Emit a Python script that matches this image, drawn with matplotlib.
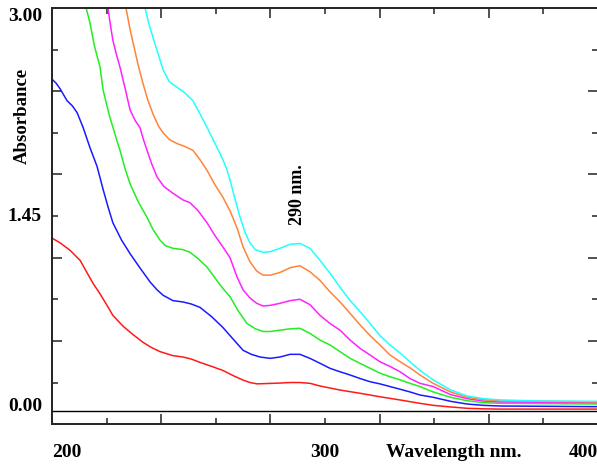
import numpy as np
import matplotlib
matplotlib.use('Agg')
import matplotlib.pyplot as plt
from matplotlib import transforms

# ################## spectra (nm, absorbance) ########

red_nm = [200, 203, 206.6, 210.3, 212.5, 215, 217.6, 220, 222.3, 226, 229.5, 233.3, 236.5,
          239.6, 244.3, 248, 251, 254.2, 258.5, 262.6, 266.5, 270, 272.5, 275.1, 279.5,
          283.5, 287.2, 290.8, 294.5, 298.2, 305.5, 312.8, 320.1, 323.8, 327.5, 334.8,
          339.6, 346, 352, 358, 364.1, 400]
red_abs = [1.286, 1.25, 1.195, 1.12, 1.04, 0.95, 0.87, 0.79, 0.71, 0.63, 0.57, 0.51, 0.47,
           0.44, 0.41, 0.40, 0.385, 0.36, 0.33, 0.30, 0.26, 0.228, 0.21, 0.20, 0.203,
           0.206, 0.21, 0.21, 0.204, 0.184, 0.154, 0.13, 0.104, 0.092, 0.08, 0.055,
           0.04, 0.028, 0.018, 0.014, 0.012, 0.012]

blue_nm = [200, 201.5, 202.9, 205.5, 207.5, 209.2, 211.4, 213.9, 216.5, 218.7, 220.5, 222.3,
           225.5, 228.6, 232, 235.9, 238.5, 240.7, 244.3, 248, 251, 254.2, 258.5, 262.6,
           265.2, 267.8, 270, 273, 276.2, 279.9, 283.5, 287.2, 290.8, 294.5, 298.2, 301.8,
           305.5, 309.2, 312.8, 316.5, 320.1, 323.8, 327.5, 331.1, 334.8, 339.6, 346, 352,
           358, 364.1, 400]
blue_abs = [2.47, 2.44, 2.40, 2.31, 2.27, 2.22, 2.11, 1.96, 1.82, 1.65, 1.52, 1.40,
            1.27, 1.17, 1.07, 0.96, 0.90, 0.86, 0.82, 0.81, 0.795, 0.77, 0.70, 0.62,
            0.56, 0.50, 0.45, 0.42, 0.40, 0.39, 0.40, 0.42, 0.42, 0.39, 0.353, 0.316,
            0.29, 0.266, 0.24, 0.216, 0.20, 0.18, 0.16, 0.14, 0.117, 0.10, 0.07, 0.05,
            0.04, 0.035, 0.03]

green_nm = [212.5, 213.9, 215.5, 217.6, 218.7, 221, 223.8, 224.9, 226.8, 228.6, 231.5, 234.8,
            237, 239.6, 241.5, 244.3, 248, 250.5, 253.1, 256.8, 260.4, 262.6, 265.2, 268,
            271.4, 274.5, 277.3, 280, 283.5, 287.2, 290.8, 294.5, 298.2, 301.8, 305.5,
            309.2, 312.8, 316.5, 320.1, 323.8, 327.5, 331.1, 334.8, 339.6, 346, 352, 358,
            364.1, 400]
green_abs = [3.0, 2.89, 2.72, 2.56, 2.39, 2.20, 2.01, 1.94, 1.80, 1.69, 1.56, 1.44,
             1.35, 1.27, 1.23, 1.21, 1.20, 1.18, 1.14, 1.07, 0.97, 0.91, 0.85, 0.75,
             0.65, 0.61, 0.59, 0.59, 0.60, 0.61, 0.614, 0.576, 0.526, 0.49, 0.44,
             0.39, 0.353, 0.316, 0.28, 0.253, 0.23, 0.204, 0.18, 0.14, 0.10, 0.075, 0.06,
             0.055, 0.05]

magenta_nm = [220.5, 221.5, 222.3, 223.5, 224.9, 226.8, 228.6, 230.5, 232.2, 233.5, 234.8,
              236.5, 238.5, 241, 244.3, 248, 250.5, 253.5, 256.8, 259.5, 262.6, 265.2,
              267.8, 270, 272.5, 275, 277.3, 280, 283.5, 287.2, 290.8, 294.5, 298.2, 301.8,
              305.5, 309.2, 312.8, 316.5, 320.1, 323.8, 327.5, 331.1, 334.8, 339.6, 346,
              352, 358, 364.1, 400]
magenta_abs = [3.0, 2.86, 2.76, 2.66, 2.56, 2.40, 2.24, 2.16, 2.11, 2.02, 1.94,
               1.84, 1.74, 1.67, 1.62, 1.57, 1.55, 1.49, 1.40, 1.31, 1.22, 1.14,
               0.995, 0.90, 0.84, 0.80, 0.78, 0.785, 0.80, 0.82, 0.83, 0.79, 0.71, 0.65,
               0.60, 0.526, 0.465, 0.415, 0.365, 0.33, 0.29, 0.24, 0.204, 0.18, 0.12,
               0.09, 0.072, 0.065, 0.06]

orange_nm = [227.1, 228.5, 229.7, 231.5, 233.3, 235, 237, 239, 240.7, 243, 245.8, 248.5,
             251.6, 254.2, 256.8, 259.5, 262.6, 265.2, 267.8, 270, 272.5, 275, 277.3, 280,
             283.5, 287.2, 290.8, 294.5, 298.2, 301.8, 305.5, 309.2, 312.8, 316.5, 320.1,
             323.8, 327.5, 331.1, 334.8, 339.6, 346, 352, 358, 364.1, 400]
orange_abs = [3.0, 2.85, 2.74, 2.58, 2.44, 2.32, 2.21, 2.12, 2.07, 2.02, 1.99, 1.97,
              1.94, 1.87, 1.79, 1.69, 1.59, 1.49, 1.36, 1.22, 1.11, 1.04, 1.01, 1.01,
              1.03, 1.065, 1.08, 1.035, 0.97, 0.886, 0.81, 0.725, 0.64, 0.56, 0.49,
              0.415, 0.365, 0.32, 0.266, 0.204, 0.14, 0.10, 0.082, 0.075, 0.065]

cyan_nm = [234.1, 235.5, 237, 239, 240.7, 243, 245.8, 248.5, 251.6, 254, 256.8, 259.5,
           262.6, 264, 265.2, 267, 268.9, 270.7, 272.5, 274.5, 277.3, 280, 283.5, 287.2,
           290.8, 294.5, 298.2, 301.8, 305.5, 309.2, 312.8, 316.5, 320.1, 323.8, 327.5,
           331.1, 334.8, 339.6, 346, 352, 358, 364.1, 380, 400]
cyan_abs = [3.0, 2.88, 2.78, 2.65, 2.54, 2.45, 2.41, 2.37, 2.31, 2.22, 2.11, 2.00,
            1.87, 1.80, 1.72, 1.58, 1.44, 1.33, 1.25, 1.20, 1.18, 1.185, 1.21, 1.24,
            1.246, 1.21, 1.12, 1.025, 0.92, 0.82, 0.74, 0.65, 0.56, 0.49, 0.43,
            0.365, 0.30, 0.23, 0.155, 0.11, 0.09, 0.08, 0.072, 0.07]

series = [(red_nm, red_abs, '#ff1a1a'),
          (blue_nm, blue_abs, '#1a1aff'),
          (green_nm, green_abs, '#22ee22'),
          (magenta_nm, magenta_abs, '#ff22ff'),
          (orange_nm, orange_abs, '#ff8438'),
          (cyan_nm, cyan_abs, '#22ffff')]

y_labels = [3.00, 1.45, 0.00]
x_labels = [200, 300, 400]

###########################################################################

plt.rcParams['font.family'] = ['Liberation Serif', 'DejaVu Serif']
plt.rcParams['font.weight'] = 'bold'

fig = plt.figure(figsize=(5.97, 4.65), dpi=100)
ax = fig.add_axes([52 / 597, 41 / 465, 546 / 597, 416 / 465])

for x_var, y_var, c in series:
    ax.plot(x_var, y_var, color=c, linewidth=1.1)

ax.axhline(0, color='black', linewidth=1.0)

ax.set_xlim(200, 400)
ax.set_ylim(-0.099, 3.0)

ax.set_xticks([240, 280, 320, 360])
ax.set_xticks([220, 260, 300, 340, 380], minor=True)
ax.set_yticks([0.52, 1.14, 1.76, 2.38])
ax.set_yticks([0.21, 0.83, 1.45, 2.07, 2.69], minor=True)
ax.tick_params(which='both', direction='in', top=True, right=True,
               labelbottom=False, labelleft=False, color='#333333', width=1.2)
ax.tick_params(which='major', length=7)
ax.tick_params(which='minor', length=4)
for s in ax.spines.values():
    s.set_linewidth(1.4)
    s.set_color('#222222')

# tick labels written by hand like the instrument software does
ytrans = transforms.blended_transform_factory(fig.transFigure, ax.transData)
for v in y_labels:
    va = 'top' if v == 3.0 else 'center'
    ax.text(42 / 597, v + (0.03 if v == 0 else 0), '%.2f' % v, transform=ytrans,
            ha='right', va=va, fontsize=14, fontweight='bold')

xtrans = transforms.blended_transform_factory(ax.transData, fig.transFigure)
for v in x_labels:
    ha = {200: 'left', 300: 'center', 400: 'right'}[v]
    ax.text(v, 13 / 465, str(v), transform=xtrans, ha=ha, va='center',
            fontsize=14, fontweight='bold')
ax.text(347, 13 / 465, 'Wavelength nm.', transform=xtrans, ha='center', va='center',
        fontsize=14, fontweight='bold')

fig.text(22 / 597, 1 - 116 / 465, 'Absorbance', rotation=90, ha='center', va='center',
         fontsize=13.5, fontweight='bold')

ax.text(290, 1.61, '290 nm.', rotation=90, ha='center', va='center',
        fontsize=13, fontweight='bold')

fig.savefig('out.png', dpi=100)
